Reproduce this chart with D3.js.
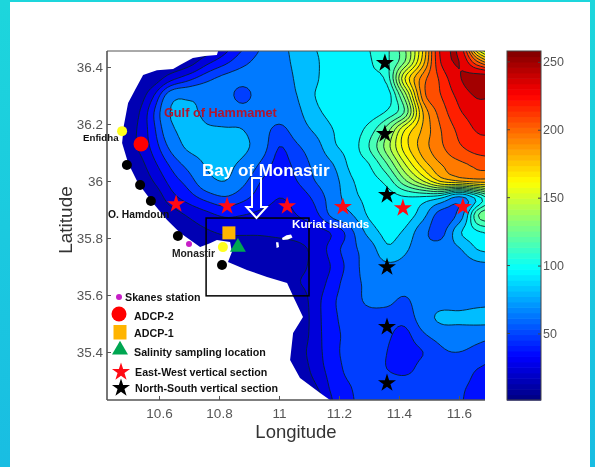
<!DOCTYPE html>
<html><head><meta charset="utf-8">
<script src="https://cdn.jsdelivr.net/npm/d3@7"></script>
<style>html,body{margin:0;padding:0;background:#fff}svg{display:block;filter:blur(0.45px)}text{font-family:"Liberation Sans",Arial,sans-serif}</style>
</head><body><div id="chart"></div>
<script>
// Bathymetry: first column lon 10.40, first row lat 36.48, 0.06 degree step
const lonStart = 10.40, latStart = 36.48, gridStep = 0.06;
const depthRows = [
[0,0,0,0,0,0,2,22,40,54,64,80,88,94,96,100,108,130,170,228,235,150,115],
[0,0,0,0,0,8,25,38,50,58,62,78,86,94,96,99,108,130,175,225,240,200,175],
[0,0,0,6,25,38,50,58,60,62,60,75,86,94,96,98,104,160,195,215,238,250,250],
[0,0,3,28,64,68,66,62,48,64,64,72,88,92,95,92,94,135,195,212,228,242,240],
[0,0,10,40,73,76,68,66,64,66,62,68,84,92,94,94,102,122,180,205,222,230,232],
[0,0,14,38,68,78,74,73,72,62,50,62,75,88,94,104,125,160,182,200,215,225,225],
[0,0,14,34,58,76,78,78,76,62,42,52,64,85,94,110,135,165,185,198,210,218,220],
[0,0,6,26,45,60,74,76,68,52,38,46,58,72,92,100,120,150,175,190,197,203,205],
[0,0,0,16,35,48,66,72,58,42,34,42,54,65,86,95,104,128,150,172,180,185,185],
[0,0,0,4,24,36,46,52,45,36,30,34,45,62,82,92,95,98,96,88,65,92,120],
[0,0,0,0,8,18,26,32,30,27,26,30,38,58,70,90,96,96,78,45,60,118,128],
[0,0,0,0,0,8,14,18,18,18,20,22,25,32,50,78,92,85,60,48,85,98,102],
[0,0,0,0,0,0,5,8,8,8,8,12,20,36,50,62,85,75,60,62,70,88,92],
[0,0,0,0,0,0,0,0,3,6,8,12,20,32,48,60,68,66,60,58,60,66,68],
[0,0,0,0,0,0,0,0,0,0,0,14,22,36,50,56,60,60,60,60,60,62,64],
[0,0,0,0,0,0,0,0,0,0,0,4,24,40,49,56,57,52,62,63,63,66,68],
[0,0,0,0,0,0,0,0,0,0,0,0,24,39,48,50,48,46,62,76,76,78,78],
[0,0,0,0,0,0,0,0,0,0,0,2,24,38,46,50,44,39,52,60,62,60,58],
[0,0,0,0,0,0,0,0,0,0,0,8,24,38,47,50,42,38,42,52,54,50,44],
[0,0,0,0,0,0,0,0,0,0,0,3,22,36,46,50,42,38,47,51,48,42,40],
[0,0,0,0,0,0,0,0,0,0,0,0,14,34,42,49,50,50,51,50,44,40,38],
[0,0,0,0,0,0,0,0,0,0,0,0,4,30,40,49,51,52,52,50,43,39,36],
[0,0,0,0,0,0,0,0,0,0,0,0,0,28,38,48,51,52,52,50,42,38,35]
];
const contourLevels = [16,30,42,54,72,88,100,110,120,130,140,150,160,170,180,190,200,212,224,240];
const coastLon = [10.797,10.793,10.753,10.713,10.67,10.647,10.593,10.547,10.52,10.497,10.483,10.477,10.497,10.53,10.58,10.627,10.67,10.737,10.77,10.793,10.837,10.843,10.83,10.893,10.96,11.027,11.047,11.08,11.047,11.037,11.07,11.137,11.17];
const coastLat = [36.456,36.442,36.439,36.432,36.407,36.393,36.389,36.372,36.319,36.274,36.196,36.133,36.063,35.993,35.923,35.863,35.818,35.768,35.782,35.793,35.786,35.751,35.716,35.688,35.663,35.642,35.596,35.523,35.467,35.372,35.309,35.256,35.232];
const islandLon = [[11.01,11.025,11.04,11.045,11.03,11.012],[10.99,10.998,11.0,10.992]];
const islandLat = [[35.80,35.81,35.812,35.802,35.795,35.793],[35.785,35.785,35.768,35.765]];
const blackDotLon = [10.493,10.537,10.573,10.663,10.81];
const blackDotLat = [36.056,35.986,35.93,35.807,35.705];
const yellowDotLon = [10.477,10.813];
const yellowDotLat = [36.175,35.768];
const adcp2 = [10.54,36.13];
const adcp1 = [10.833,35.818];
const salinity = [10.863,35.768];
const skanes = [10.70,35.779];
const ewStarLon = [10.657,10.827,11.027,11.213,11.413,11.613];
const ewStarLat = [35.919,35.912,35.912,35.909,35.905,35.909];
const nsStarLon = [11.353,11.353,11.36,11.36,11.36,11.36];
const nsStarLat = [36.414,36.165,35.951,35.698,35.488,35.291];
const boxLon = [10.757,11.10];
const boxLat = [35.87,35.597];
const lonTicks = [10.6,10.8,11,11.2,11.4,11.6];
const latTicks = [35.4,35.6,35.8,36,36.2,36.4];
const barTicks = [50,100,150,200,250];
const legendLabels = ["Skanes station","ADCP-2","ADCP-1","Salinity sampling location","East-West vertical section","North-South vertical section"];

const W=595,H=467, L=107,R=485,T=51,B=400;
const x=d3.scaleLinear().domain([11,11.6]).range([279,459]);
const y=d3.scaleLinear().domain([36,35.4]).range([181,352]);
const bar=d3.scaleLinear().domain([1,258]).range([B,T]);
function jet(t){const c=v=>Math.round(255*Math.max(0,Math.min(1,v)));
  return `rgb(${c(1.5-Math.abs(4*t-3))},${c(1.5-Math.abs(4*t-2))},${c(1.5-Math.abs(4*t-1))})`;}
const col=v=>jet(v/258);

const svg=d3.select("#chart").append("svg").attr("width",W).attr("height",H).attr("viewBox",`0 0 ${W} ${H}`);
const defs=svg.append("defs");
const grad=defs.append("linearGradient").attr("id","edge").attr("x1",0).attr("y1",0).attr("x2",0).attr("y2",1);
grad.append("stop").attr("offset","0%").attr("stop-color","#1dd6dc");
grad.append("stop").attr("offset","100%").attr("stop-color","#19bde2");
svg.append("rect").attr("width",W).attr("height",H).attr("fill","#fff");
svg.append("rect").attr("x",0).attr("y",0).attr("width",10).attr("height",H).attr("fill","url(#edge)");
svg.append("rect").attr("x",0).attr("y",0).attr("width",W).attr("height",2).attr("fill","#1dd6dc");
svg.append("rect").attr("x",590).attr("y",0).attr("width",5).attr("height",H).attr("fill","url(#edge)");

defs.append("clipPath").attr("id","plot").append("rect").attr("x",L).attr("y",T).attr("width",R-L).attr("height",B-T);
const map=svg.append("g").attr("clip-path","url(#plot)");
map.append("rect").attr("x",L).attr("y",T).attr("width",R-L).attr("height",B-T).attr("fill",col(13));

// Catmull-Rom resampling of the read grid, only so the contour lines render smoothly
const k=5,nr=depthRows.length,nc=depthRows[0].length;
const cr=(a,b,c,d,t)=>0.5*(2*b+(c-a)*t+(2*a-5*b+4*c-d)*t*t+(3*b-a-3*c+d)*t*t*t);
const at=(r,c)=>depthRows[Math.max(0,Math.min(nr-1,r))][Math.max(0,Math.min(nc-1,c))];
const W2=(nc-1)*k+1,H2=(nr-1)*k+1,fine=new Float64Array(W2*H2);
for(let j=0;j<H2;j++){const r=Math.floor(j/k),tr=j/k-r;
  for(let i=0;i<W2;i++){const c=Math.floor(i/k),tc=i/k-c;
    const row=[-1,0,1,2].map(dr=>cr(at(r+dr,c-1),at(r+dr,c),at(r+dr,c+1),at(r+dr,c+2),tc));
    fine[j*W2+i]=cr(row[0],row[1],row[2],row[3],tr);}}
const proj=d3.geoTransform({point(px,py){
  this.stream.point(x(lonStart+(px-0.5)/k*gridStep),y(latStart-(py-0.5)/k*gridStep));}});
const path=d3.geoPath(proj);
const cs=d3.contours().size([W2,H2]).thresholds(contourLevels)(fine);
const mids=contourLevels.map((v,i)=>(v+(contourLevels[i+1]||258))/2);
map.selectAll("path.band").data(cs).join("path").attr("class","band").attr("d",path)
  .attr("fill",(d,i)=>col(mids[i])).attr("stroke","#06222e").attr("stroke-width",0.9).attr("stroke-linejoin","round");

const poly=(lons,lats)=>d3.line().x(d=>x(d[0])).y(d=>y(d[1]))(lons.map((v,i)=>[v,lats[i]]))+"Z";
const dom={x0:x.invert(L),x1:x.invert(R),y0:y.invert(T),y1:y.invert(B)};
map.append("path").attr("fill","#fff")
  .attr("d",poly([dom.x0,...coastLon,dom.x0],[dom.y0,...coastLat,dom.y1]));
islandLon.forEach((lo,i)=>map.append("path").attr("fill","#fff").attr("d",poly(lo,islandLat[i])));

// box
svg.append("rect").attr("x",x(boxLon[0])).attr("y",y(boxLat[0])).attr("width",x(boxLon[1])-x(boxLon[0])).attr("height",y(boxLat[1])-y(boxLat[0]))
  .attr("fill","none").attr("stroke","#000").attr("stroke-width",1.5);

// axes
const axisCol="#555";
const gx=svg.append("g").attr("transform",`translate(0,${B})`).call(d3.axisBottom(x).tickValues(lonTicks).tickFormat(d3.format("~g")).tickSize(-4).tickPadding(8));
gx.select(".domain").attr("d",`M${L},0H${R}`);
const gy=svg.append("g").attr("transform",`translate(${L},0)`).call(d3.axisLeft(y).tickValues(latTicks).tickFormat(d3.format("~g")).tickSize(-4).tickPadding(4));
gy.select(".domain").attr("d",`M0,${B}V${T}`);
[gx,gy].forEach(g=>{g.selectAll("text").attr("font-size",13.5).attr("fill","#555").attr("font-family","Liberation Sans");
  g.selectAll("line").attr("stroke",axisCol);g.select(".domain").attr("stroke",axisCol).attr("stroke-width",1.6);});
svg.append("line").attr("x1",L).attr("x2",R).attr("y1",T).attr("y2",T).attr("stroke","#555").attr("stroke-width",1);
svg.append("text").attr("x",296).attr("y",438).attr("text-anchor","middle").attr("font-size",18.5).attr("fill","#333").text("Longitude");
svg.append("text").attr("transform","translate(72,220) rotate(-90)").attr("text-anchor","middle").attr("font-size",19).attr("fill","#333").text("Latitude");

// colour bar
const barX=507,barW=34,levels=d3.range(64);
svg.selectAll("rect.cb").data(levels).join("rect").attr("class","cb").attr("x",barX).attr("width",barW)
  .attr("y",d=>bar(1+(d+1)/64*257)).attr("height",(B-T)/64+0.6).attr("fill",d=>jet((d+0.5)/64));
svg.append("rect").attr("x",barX).attr("y",T).attr("width",barW).attr("height",B-T).attr("fill","none").attr("stroke","#444").attr("stroke-width",1);
const gb=svg.append("g").attr("transform",`translate(${barX+barW},0)`).call(d3.axisRight(bar).tickValues(barTicks).tickSize(-3).tickPadding(2));
gb.select(".domain").remove();
gb.selectAll("line").attr("stroke","#444");
gb.selectAll("text").attr("font-size",12.5).attr("fill","#555").attr("font-family","Liberation Sans");
svg.selectAll("line.tl").data(barTicks).join("line").attr("class","tl").attr("x1",barX).attr("x2",barX+3).attr("y1",d=>bar(d)).attr("y2",d=>bar(d)).attr("stroke","#444");

// marks
const star=d3.symbol().type(d3.symbolStar);
const starPath=r=>star.size(r*r/0.89)();
const put=(px,py,path,fill)=>svg.append("path").attr("transform",`translate(${px},${py})`).attr("d",path).attr("fill",fill);
const tri=d3.symbol().type(d3.symbolTriangle);
const AD2="#ff0000",AD1="#ffb400",SAL="#00a651",MAG="#c71ec7";
blackDotLon.forEach((v,i)=>svg.append("circle").attr("cx",x(v)).attr("cy",y(blackDotLat[i])).attr("r",5).attr("fill","#000"));
svg.append("circle").attr("cx",x(skanes[0])).attr("cy",y(skanes[1])).attr("r",3).attr("fill",MAG);
yellowDotLon.forEach((v,i)=>svg.append("circle").attr("cx",x(v)).attr("cy",y(yellowDotLat[i])).attr("r",5).attr("fill","#ffff1e"));
svg.append("circle").attr("cx",x(adcp2[0])).attr("cy",y(adcp2[1])).attr("r",7.5).attr("fill",AD2);
svg.append("rect").attr("x",x(adcp1[0])-6.5).attr("y",y(adcp1[1])-6.5).attr("width",13).attr("height",13).attr("fill",AD1);
put(x(salinity[0]),y(salinity[1]),tri.size(110)(),SAL);
ewStarLon.forEach((v,i)=>put(x(v),y(ewStarLat[i]),starPath(9.5),"#ff0a14"));
nsStarLon.forEach((v,i)=>put(x(v),y(nsStarLat[i]),starPath(9.5),"#000"));

// arrow
const ax=256.5;
svg.append("path").attr("d",`M${ax-4.5},178H${ax+4.5}V207H${ax+10}L${ax},218L${ax-10},207H${ax-4.5}Z`).attr("fill","none").attr("stroke","#fff").attr("stroke-width",2);

// labels
const label=(s,px,py,size,fill,anchor)=>svg.append("text").attr("x",px).attr("y",py).attr("font-size",size).attr("font-weight","bold").attr("fill",fill).attr("text-anchor",anchor||"start").text(s);
label("Gulf of Hammamet",164,117,12.7,"#b0142e");
label("Bay of Monastir",202,176,17,"#fff");
label("Kuriat Islands",292,228,11.7,"#fff");
label("Enfidha",83,141,9.7,"#111");
label("O. Hamdoun",108,218,10.3,"#111");
label("Monastir",172,257,10.3,"#222");

// legend
const ly=[301,320,337,356,376,392], lx=[125,134,134,134,135,135];
legendLabels.forEach((s,i)=>label(s,lx[i],ly[i],10.7,"#111"));
svg.append("circle").attr("cx",119).attr("cy",297).attr("r",3).attr("fill",MAG);
svg.append("circle").attr("cx",119).attr("cy",314).attr("r",7.5).attr("fill",AD2);
svg.append("rect").attr("x",113.5).attr("y",325).attr("width",13).attr("height",14.5).attr("fill",AD1);
put(120,350,tri.size(110)(),SAL);
put(121,372,starPath(9.5),"#ff0a14");
put(121,388,starPath(9.5),"#000");
</script></body></html>
